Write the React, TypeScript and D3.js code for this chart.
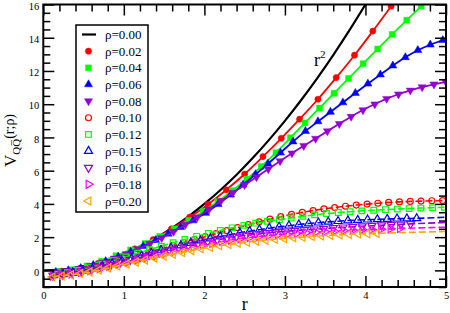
import React, { useEffect, useRef } from 'react';
import * as d3 from 'd3';

const WIDTH = 450;
const HEIGHT = 313;
const FONT = '"Liberation Serif", "Times New Roman", "DejaVu Serif", serif';

// axis ticks
const xMajor = [0, 1, 2, 3, 4, 5];
const yMajor = [0, 2, 4, 6, 8, 10, 12, 14, 16];

// rho = 0.00 : the r^2 curve
const r000 = [0, 0.2, 0.4, 0.6, 0.8, 1, 1.2, 1.4, 1.6, 1.8, 2, 2.2, 2.4, 2.6, 2.8, 3, 3.2, 3.4, 3.6, 3.8, 4];
const v000 = [0, 0.04, 0.16, 0.36, 0.64, 1, 1.44, 1.96, 2.56, 3.24, 4, 4.84, 5.76, 6.76, 7.84, 9, 10.24, 11.56, 12.96, 14.44, 16];

// the other sets: r = step * (i + 1)
const step002 = 0.2273;
const v002 = [-0.05, 0.12, 0.42, 0.82, 1.3, 1.85, 2.5, 3.2, 3.97, 4.85, 5.8, 6.85, 7.95, 9.1, 10.3, 11.6, 12.95, 14.4, 15.9];

const step004 = 0.1805;
const v004 = [-0.08, 0.05, 0.27, 0.55, 0.88, 1.23, 1.62, 2.05, 2.5, 3.0, 3.55, 4.15, 4.8, 5.5, 6.25, 7.08, 7.98, 8.88,
  9.77, 10.66, 11.55, 12.44, 13.32, 14.2, 15.06, 15.9];

const step006 = 0.155;
const v006 = [-0.1, 0.0, 0.13, 0.32, 0.55, 0.82, 1.12, 1.45, 1.82, 2.2, 2.6, 3.0, 3.45, 3.98, 4.55, 5.15, 5.78, 6.42,
  7.08, 7.75, 8.38, 8.96, 9.53, 10.1, 10.67, 11.23, 11.78, 12.32, 12.82, 13.25, 13.58, 13.85];

const step008 = 0.147;
const v008 = [-0.12, -0.03, 0.1, 0.27, 0.48, 0.72, 0.98, 1.28, 1.6, 1.95, 2.33, 2.75, 3.2, 3.68, 4.18, 4.66, 5.14, 5.62,
  6.1, 6.58, 7.05, 7.5, 7.93, 8.38, 8.82, 9.25, 9.65, 10.0, 10.33, 10.6, 10.83, 11.03, 11.2, 11.35];

const step010 = 0.134;
const v010 = [-0.28, -0.2, -0.1, 0.03, 0.2, 0.38, 0.57, 0.75, 0.94, 1.13, 1.32, 1.5, 1.68, 1.86, 2.03, 2.21, 2.39, 2.57,
  2.75, 2.92, 3.08, 3.23, 3.37, 3.49, 3.6, 3.7, 3.78, 3.86, 3.93, 3.99, 4.04, 4.09, 4.12, 4.15, 4.17, 4.19, 4.2];

const step012 = 0.1465;
const v012 = [-0.25, -0.14, 0.0, 0.17, 0.37, 0.59, 0.81, 1.03, 1.25, 1.46, 1.66, 1.86, 2.05, 2.23, 2.4, 2.56, 2.71, 2.84,
  2.95, 3.05, 3.15, 3.25, 3.34, 3.42, 3.48, 3.53, 3.58, 3.62, 3.66, 3.69, 3.72, 3.75, 3.77, 3.8];

const step015 = 0.122;
const v015 = [-0.3, -0.23, -0.14, -0.03, 0.1, 0.25, 0.4, 0.56, 0.72, 0.88, 1.04, 1.2, 1.35, 1.5, 1.65, 1.79, 1.92, 2.04,
  2.15, 2.26, 2.36, 2.45, 2.54, 2.62, 2.69, 2.76, 2.82, 2.87, 2.92, 2.96, 3.0, 3.03, 3.05, 3.07, 3.09, 3.11, 3.12, 3.13];

const step016 = 0.12;
const v016 = [-0.32, -0.26, -0.18, -0.08, 0.05, 0.19, 0.34, 0.49, 0.64, 0.79, 0.94, 1.08, 1.22, 1.36, 1.5, 1.62, 1.74,
  1.85, 1.95, 2.04, 2.12, 2.19, 2.25, 2.3, 2.35, 2.39, 2.43, 2.47, 2.51, 2.55, 2.59, 2.63, 2.66, 2.69, 2.72, 2.75, 2.77, 2.8];

const step018 = 0.1165;
const v018 = [-0.35, -0.29, -0.22, -0.13, -0.02, 0.1, 0.23, 0.37, 0.5, 0.63, 0.76, 0.89, 1.02, 1.15, 1.28, 1.41, 1.53,
  1.64, 1.74, 1.83, 1.91, 1.98, 2.04, 2.09, 2.14, 2.18, 2.22, 2.26, 2.3, 2.33, 2.36, 2.39, 2.42, 2.44, 2.46, 2.48, 2.5, 2.52];

const step020 = 0.115;
const v020 = [-0.4, -0.34, -0.27, -0.19, -0.09, 0.02, 0.14, 0.26, 0.38, 0.5, 0.62, 0.74, 0.86, 0.97, 1.08, 1.19, 1.3,
  1.39, 1.48, 1.56, 1.63, 1.7, 1.76, 1.82, 1.87, 1.92, 1.96, 2.0, 2.04, 2.08, 2.11, 2.14, 2.17, 2.19, 2.21, 2.23];

// value of the dashed fits at r = 5
const fitEnd015 = 3.2;
const fitEnd016 = 2.88;
const fitEnd018 = 2.6;
const fitEnd020 = 2.34;

type Shape = 'circle' | 'square' | 'up' | 'down' | 'right' | 'left';
interface Series {
  label: string;
  color: string;
  shape: Shape;
  filled: boolean;
  step: number;
  values: number[];
  fitEnd?: number;
}

const series: Series[] = [
  { label: 'ρ=0.02', color: '#ff0000', shape: 'circle', filled: true, step: step002, values: v002 },
  { label: 'ρ=0.04', color: '#00ff00', shape: 'square', filled: true, step: step004, values: v004 },
  { label: 'ρ=0.06', color: '#0000ff', shape: 'up', filled: true, step: step006, values: v006 },
  { label: 'ρ=0.08', color: '#9400d3', shape: 'down', filled: true, step: step008, values: v008 },
  { label: 'ρ=0.10', color: '#ff0000', shape: 'circle', filled: false, step: step010, values: v010 },
  { label: 'ρ=0.12', color: '#00ff00', shape: 'square', filled: false, step: step012, values: v012 },
  { label: 'ρ=0.15', color: '#0000ff', shape: 'up', filled: false, step: step015, values: v015, fitEnd: fitEnd015 },
  { label: 'ρ=0.16', color: '#9400d3', shape: 'down', filled: false, step: step016, values: v016, fitEnd: fitEnd016 },
  { label: 'ρ=0.18', color: '#ff00ff', shape: 'right', filled: false, step: step018, values: v018, fitEnd: fitEnd018 },
  { label: 'ρ=0.20', color: '#ffa500', shape: 'left', filled: false, step: step020, values: v020, fitEnd: fitEnd020 },
];

function symbolPath(shape: Shape, filled: boolean) {
  if (shape === 'circle') return d3.symbol(d3.symbolCircle, filled ? 30 : 28)();
  if (shape === 'square') return d3.symbol(d3.symbolSquare, filled ? 34 : 32)();
  return d3.symbol(d3.symbolTriangle, filled ? 28 : 28)();
}
const rotation: Record<Shape, number> = { circle: 0, square: 0, up: 0, down: 180, right: 90, left: -90 };

function App() {
  const ref = useRef<SVGSVGElement>(null);

  useEffect(() => {
    const svg = d3.select(ref.current);
    svg.selectAll('*').remove();

    const x = d3.scaleLinear([0, 5], [43.3, 446]);
    const y = d3.scaleLinear([-1, 16], [287, 4.5]);

    svg.append('rect').attr('width', WIDTH).attr('height', HEIGHT).attr('fill', 'white');

    svg.append('defs').append('clipPath').attr('id', 'plot-area')
      .append('rect')
      .attr('x', x(0))
      .attr('y', y(16))
      .attr('width', x(5) - x(0))
      .attr('height', y(-1) - y(16));

    const plot = svg.append('g').attr('clip-path', 'url(#plot-area)');
    const line = d3.line<[number, number]>()
      .x((d) => x(d[0]))
      .y((d) => y(d[1]))
      .curve(d3.curveMonotoneX);

    // rho = 0.00
    plot.append('path')
      .attr('d', line(r000.map((r, i) => [r, v000[i]] as [number, number])))
      .attr('fill', 'none')
      .attr('stroke', 'black')
      .attr('stroke-width', 2.2);

    series.forEach((s) => {
      const pts = s.values.map((v, i) => [s.step * (i + 1), v] as [number, number]);
      const fit = s.fitEnd !== undefined ? [...pts, [5, s.fitEnd] as [number, number]] : pts;
      plot.append('path')
        .attr('d', line(fit))
        .attr('fill', 'none')
        .attr('stroke', s.color)
        .attr('stroke-width', s.filled ? 1.8 : 1.6)
        .attr('stroke-dasharray', s.filled ? null : '7,3');

      plot.append('g')
        .selectAll('path')
        .data(pts)
        .join('path')
        .attr('d', symbolPath(s.shape, s.filled))
        .attr('transform', (d) => `translate(${x(d[0])},${y(d[1])}) rotate(${rotation[s.shape]})`)
        .attr('fill', s.filled ? s.color : 'none')
        .attr('stroke', s.color)
        .attr('stroke-width', s.filled ? 0.5 : 1.2);
    });

    // r^2 annotation
    svg.append('text')
      .attr('x', x(3.36))
      .attr('y', y(12.3))
      .attr('font-family', FONT)
      .attr('font-size', 18)
      .text('r')
      .append('tspan')
      .attr('dy', -8)
      .attr('font-size', 11)
      .text('2');

    // axes with inward ticks on all four sides
    const minorX = d3.range(0, 5.001, 0.2).filter((v) => Math.abs(v - Math.round(v)) > 0.01);
    const minorY = d3.range(-1, 16.001, 0.5).filter((v) => Math.abs(v / 2 - Math.round(v / 2)) > 0.01);
    const axes = svg.append('g');

    const addAxis = (axis: d3.Axis<d3.NumberValue>, transform: string, dy?: string) => {
      const g = axes.append('g')
        .attr('transform', transform)
        .call(axis)
        .attr('font-family', FONT)
        .attr('font-size', 10.5);
      g.select('.domain').remove();
      g.selectAll('.tick line').attr('stroke-width', 1.5);
      const t = g.selectAll('.tick text').attr('fill', 'black');
      if (dy) t.attr('dy', dy);
      return g;
    };
    const noLabel = () => '';

    addAxis(d3.axisBottom(x).tickValues(xMajor).tickSizeInner(-11).tickSizeOuter(0).tickPadding(4.5)
      .tickFormat(d3.format('d')), `translate(0,${y(-1)})`);
    addAxis(d3.axisBottom(x).tickValues(minorX).tickSizeInner(-7).tickSizeOuter(0).tickFormat(noLabel),
      `translate(0,${y(-1)})`);
    addAxis(d3.axisTop(x).tickValues(xMajor).tickSizeInner(-11).tickSizeOuter(0).tickFormat(noLabel),
      `translate(0,${y(16)})`);
    addAxis(d3.axisTop(x).tickValues(minorX).tickSizeInner(-7).tickSizeOuter(0).tickFormat(noLabel),
      `translate(0,${y(16)})`);
    addAxis(d3.axisLeft(y).tickValues(yMajor).tickSizeInner(-11).tickSizeOuter(0).tickPadding(4)
      .tickFormat(d3.format('d')), `translate(${x(0)},0)`, '0.45em');
    addAxis(d3.axisLeft(y).tickValues(minorY).tickSizeInner(-7).tickSizeOuter(0).tickFormat(noLabel),
      `translate(${x(0)},0)`);
    addAxis(d3.axisRight(y).tickValues(yMajor).tickSizeInner(-11).tickSizeOuter(0).tickFormat(noLabel),
      `translate(${x(5)},0)`);
    addAxis(d3.axisRight(y).tickValues(minorY).tickSizeInner(-7).tickSizeOuter(0).tickFormat(noLabel),
      `translate(${x(5)},0)`);

    svg.append('rect')
      .attr('x', x(0))
      .attr('y', y(16))
      .attr('width', x(5) - x(0))
      .attr('height', y(-1) - y(16))
      .attr('fill', 'none')
      .attr('stroke', 'black')
      .attr('stroke-width', 2);

    // axis titles
    svg.append('text')
      .attr('x', (x(0) + x(5)) / 2)
      .attr('y', 310)
      .attr('text-anchor', 'middle')
      .attr('font-family', FONT)
      .attr('font-size', 18)
      .text('r');

    const yTitle = svg.append('text')
      .attr('transform', 'translate(16,167) rotate(-90)')
      .attr('font-family', FONT);
    yTitle.append('tspan').attr('font-size', 17).text('V');
    yTitle.append('tspan').attr('font-size', 11).attr('dy', 3.5).text('QQ\u0305');
    yTitle.append('tspan').attr('font-size', 14).attr('dy', -6).text('(r;ρ)');

    // legend
    const legend = svg.append('g');
    legend.append('rect')
      .attr('x', 76).attr('y', 25).attr('width', 72).attr('height', 187)
      .attr('fill', 'white').attr('stroke', 'black').attr('stroke-width', 1.5);
    const rowY = (i: number) => 34.5 + i * 16.65;
    const labels = ['ρ=0.00', ...series.map((s) => s.label)];
    legend.append('line')
      .attr('x1', 82).attr('x2', 96).attr('y1', rowY(0)).attr('y2', rowY(0))
      .attr('stroke', 'black').attr('stroke-width', 2.2);
    series.forEach((s, i) => {
      legend.append('path')
        .attr('d', symbolPath(s.shape, s.filled))
        .attr('transform', `translate(88.5,${rowY(i + 1)}) rotate(${rotation[s.shape]})`)
        .attr('fill', s.filled ? s.color : 'none')
        .attr('stroke', s.color)
        .attr('stroke-width', s.filled ? 0.5 : 1.2);
    });
    legend.selectAll('text.lbl')
      .data(labels)
      .join('text')
      .attr('class', 'lbl')
      .attr('x', 105)
      .attr('y', (_, i) => rowY(i))
      .attr('dy', '0.35em')
      .attr('font-family', FONT)
      .attr('font-size', 13)
      .text((d) => d);
  }, []);

  return (
    <svg
      ref={ref}
      width={WIDTH}
      height={HEIGHT}
      style={{ position: 'absolute', left: 0, top: 0 }}
    />
  );
}

export default App;
